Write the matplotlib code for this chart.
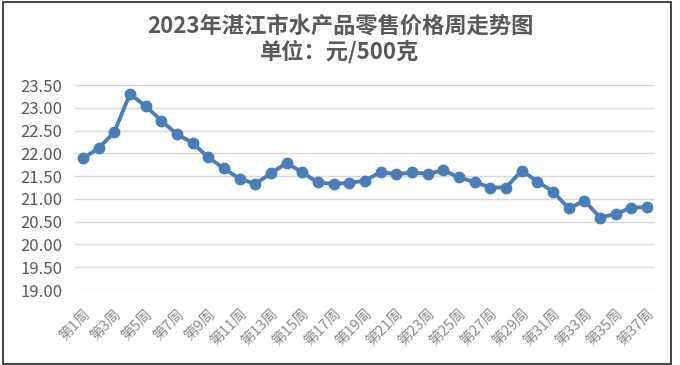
import matplotlib
matplotlib.use("Agg")
import matplotlib.pyplot as plt
from matplotlib.patches import Rectangle

plt.rcParams['font.family'] = ['Noto Sans CJK SC', 'DejaVu Sans']

weeks = [f"第{i}周" for i in range(1, 38)]
prices = [21.89, 22.11, 22.46, 23.30, 23.04, 22.72, 22.42, 22.23, 21.91, 21.67,
          21.44, 21.33, 21.56, 21.79, 21.58, 21.36, 21.33, 21.35, 21.40, 21.59,
          21.54, 21.58, 21.55, 21.63, 21.47, 21.37, 21.25, 21.25, 21.62, 21.38,
          21.16, 20.79, 20.96, 20.59, 20.67, 20.81, 20.82]
yticks = [19.0, 19.5, 20.0, 20.5, 21.0, 21.5, 22.0, 22.5, 23.0, 23.5]
title = "2023年湛江市水产品零售价格周走势图\n单位：元/500克"

W, H = 680, 365
fig = plt.figure(figsize=(W / 100, H / 100), dpi=100)
ax = fig.add_axes([75 / W, 1 - 290 / H, 580 / W, 205 / H])

x = list(range(len(weeks)))
ax.plot(x, prices, color='#4A7EBB', linewidth=2.8, marker='o', markersize=7.5,
        markerfacecolor='#4A7EBB', markeredgecolor='#4A7EBB', zorder=3)

ax.set_xlim(-0.5, len(weeks) - 0.5)
ax.set_ylim(19.0, 23.5)
ax.set_yticks(yticks)
ax.set_yticklabels([f"{v:.2f}" for v in yticks], fontsize=12, color='#595959')
ax.set_xticks(x[::2])
ax.set_xticklabels(weeks[::2], rotation=45, ha='right', va='top',
                   rotation_mode='anchor', fontsize=10.5, color='#8c8c8c')
ax.tick_params(axis='y', length=0, pad=9)
ax.tick_params(axis='x', length=0, pad=12)
ax.grid(axis='y', color='#d9d9d9', linewidth=1)
ax.set_axisbelow(True)
for s in ax.spines.values():
    s.set_visible(False)

fig.text(0.5, 1 - 39 / H, title, ha='center', va='center', fontsize=16,
         fontweight='bold', color='#595959', linespacing=1.1)

fig.patches.append(Rectangle((3 / W, 1 / H), 668 / W, 362 / H, transform=fig.transFigure,
                             fill=False, edgecolor='#222222', linewidth=1.2))

fig.savefig("out.png", dpi=100)
